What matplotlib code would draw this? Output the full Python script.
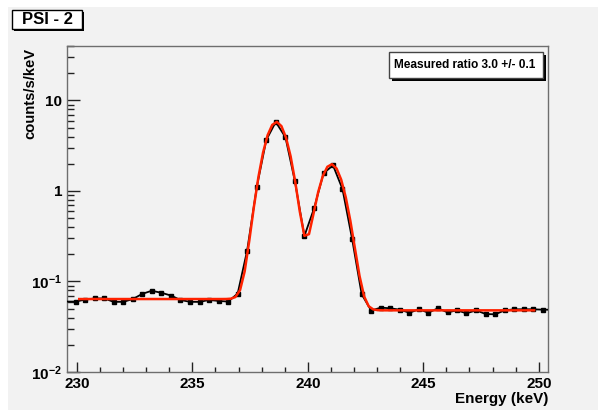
import math
import numpy as np
import matplotlib
matplotlib.use("Agg")
import matplotlib.pyplot as plt
from matplotlib.patches import Rectangle
from matplotlib.ticker import FixedLocator, FuncFormatter, LogLocator, NullFormatter

# ---------------- data ----------------
energy_kev = [229.94, 230.35, 230.77, 231.18, 231.59, 232.01, 232.42, 232.83, 233.24, 233.66,
              234.07, 234.48, 234.90, 235.31, 235.72, 236.14, 236.55, 236.96, 237.37, 237.79,
              238.20, 238.61, 239.03, 239.44, 239.85, 240.27, 240.68, 241.09, 241.50, 241.92,
              242.33, 242.74, 243.16, 243.57, 243.98, 244.40, 244.81, 245.22, 245.63, 246.05,
              246.46, 246.87, 247.29, 247.70, 248.11, 248.53, 248.94, 249.35, 249.77, 250.18]
rate = [0.060, 0.063, 0.065, 0.065, 0.0596, 0.0596, 0.064, 0.073, 0.079, 0.075,
        0.070, 0.0625, 0.0596, 0.0595, 0.0625, 0.061, 0.060, 0.0735, 0.219, 1.11,
        3.66, 5.79, 3.92, 1.28, 0.318, 0.644, 1.57, 1.92, 1.05, 0.292,
        0.0723, 0.0478, 0.0514, 0.0506, 0.0488, 0.0452, 0.0493, 0.0452, 0.0506, 0.0456,
        0.048, 0.0445, 0.048, 0.0437, 0.0434, 0.048, 0.0493, 0.0493, 0.0493, 0.0488]

# fit parameters (two gaussians on a stepped background)
peak_amp = [5.75, 1.93]
peak_mu = [238.64, 241.02]
peak_sigma = [0.46, 0.47]
bg_left, bg_right = 0.064, 0.048
fit_range = (230.1, 249.8)

x_ticks = [230, 235, 240, 245, 250]
y_tick_labels = {0.01: r"$10^{-2}$", 0.1: r"$10^{-1}$", 1: "1", 10: "10"}
title_text = "PSI - 2"
legend_text = "Measured ratio 3.0 +/- 0.1"
xlabel = "Energy (keV)"
ylabel = "counts/s/keV"

# ---------------- style ----------------
plt.rcParams["font.family"] = ["Liberation Sans", "DejaVu Sans"]
plt.rcParams["font.weight"] = "bold"
plt.rcParams["mathtext.fontset"] = "custom"
plt.rcParams["mathtext.default"] = "bf"
plt.rcParams["mathtext.bf"] = "Liberation Sans:bold"
plt.rcParams["mathtext.rm"] = "Liberation Sans:bold"

W, H = 598, 412
fig = plt.figure(figsize=(W / 100, H / 100), dpi=100, facecolor="white")
BG = "#f2f2f2"

def fx(px):
    return px / W

def fy(py):
    return 1 - py / H

# canvas background
fig.patches.append(Rectangle((fx(8), fy(410)), fx(598) - fx(8), fy(7) - fy(410),
                             transform=fig.transFigure, facecolor=BG, edgecolor="none", zorder=-10))

ax = fig.add_axes([fx(67), fy(372), fx(548) - fx(67), fy(46) - fy(372)])
ax.set_facecolor(BG)
ax.set_yscale("log")
ax.set_xlim(229.57, 250.40)
ax.set_ylim(0.01, 40)

for s in ["top", "right", "left", "bottom"]:
    ax.spines[s].set_color("#6e6e6e")
    ax.spines[s].set_linewidth(1.0)

# data line extended to frame edges
xl = ax.get_xlim()
line_x = [xl[0]] + energy_kev + [xl[1]]
line_y = [rate[0]] + rate + [rate[-1]]
ax.plot(line_x, line_y, color="black", lw=1.3, zorder=3, clip_on=True)
ax.plot(energy_kev, rate, ls="none", marker="s", ms=3.0, color="black", zorder=4)

# fit curve
xf = np.linspace(fit_range[0], fit_range[1], 100)
phi = np.vectorize(lambda z: 0.5 * (1 + math.erf(z / math.sqrt(2))))
tot = sum(peak_amp)
frac = sum(a * phi((xf - m) / s) for a, m, s in zip(peak_amp, peak_mu, peak_sigma)) / tot
yf = bg_right + (bg_left - bg_right) * (1 - frac)
for a, m, s in zip(peak_amp, peak_mu, peak_sigma):
    yf = yf + a * np.exp(-0.5 * ((xf - m) / s) ** 2)
ax.plot(xf, yf, color="#ff2200", lw=1.8, zorder=5)

# ticks
ax.xaxis.set_major_locator(FixedLocator(x_ticks))
ax.xaxis.set_minor_locator(FixedLocator(np.arange(230, 251, 1)))
ax.yaxis.set_major_locator(FixedLocator(list(y_tick_labels.keys())))
ax.yaxis.set_minor_locator(LogLocator(base=10, subs=np.arange(2, 10), numticks=20))
ax.yaxis.set_minor_formatter(NullFormatter())
ax.yaxis.set_major_formatter(FuncFormatter(lambda v, p: y_tick_labels.get(round(v, 4) if v < 1 else int(round(v)), "")))
ax.tick_params(axis="both", which="both", direction="in", top=False, right=False,
               color="#222222", width=1.0)
ax.tick_params(axis="x", which="major", length=7.2, pad=3.5, labelsize=11)
ax.tick_params(axis="x", which="minor", length=3.6)
ax.tick_params(axis="y", which="major", length=9.5, pad=3.5, labelsize=11)
ax.tick_params(axis="y", which="minor", length=5)
for lab in ax.get_xticklabels() + ax.get_yticklabels():
    lab.set_fontweight("bold")

# axis titles
fig.text(fx(548), fy(399), xlabel, ha="right", va="center", fontsize=11, fontweight="bold")
fig.text(fx(30), fy(48), ylabel, ha="center", va="top", rotation=90, fontsize=10.6, fontweight="bold")

# title box with small shadow
fig.patches.append(Rectangle((fx(14), fy(31)), fx(82) - fx(12), fy(10) - fy(29),
                             transform=fig.transFigure, facecolor="black", edgecolor="none", zorder=20))
fig.patches.append(Rectangle((fx(12), fy(29)), fx(82) - fx(12), fy(10) - fy(29),
                             transform=fig.transFigure, facecolor="white", edgecolor="black",
                             lw=1.0, zorder=21))
fig.text(fx(47), fy(19.5), title_text, ha="center", va="center", fontsize=12,
         fontweight="bold", zorder=22)

# legend box with shadow
fig.patches.append(Rectangle((fx(392), fy(81)), fx(543) - fx(389), fy(52) - fy(78),
                             transform=fig.transFigure, facecolor="black", edgecolor="none", zorder=20))
fig.patches.append(Rectangle((fx(389), fy(78)), fx(543) - fx(389), fy(52) - fy(78),
                             transform=fig.transFigure, facecolor="white", edgecolor="#444444",
                             lw=1.0, zorder=21))
fig.text(fx(394), fy(65), legend_text, ha="left", va="center", fontsize=8.6,
         fontweight="bold", zorder=22)

fig.savefig("out.png", dpi=100, facecolor="white")
